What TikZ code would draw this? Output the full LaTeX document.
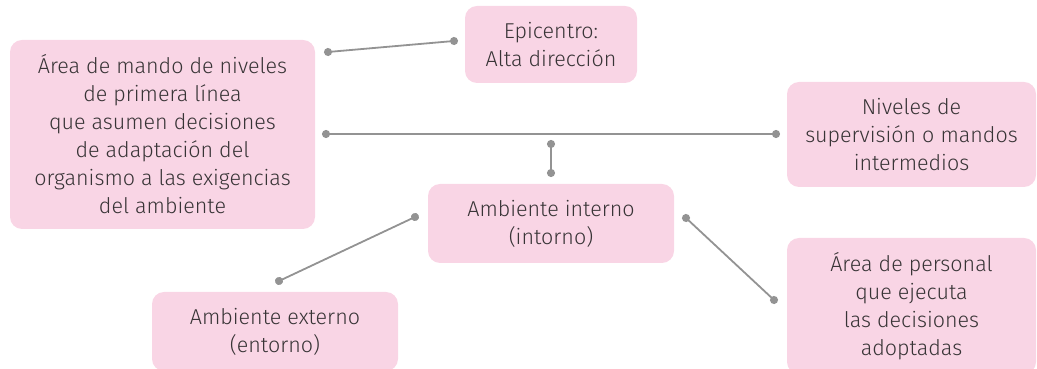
\documentclass[tikz,border=0pt]{standalone}
\usepackage{fontspec}
\setmainfont{Fira Sans Light}
\usetikzlibrary{arrows.meta,positioning,calc}
\definecolor{rosa}{HTML}{F9D5E5}
\definecolor{gris}{HTML}{939393}
\definecolor{texto}{HTML}{383436}
\tikzset{
  caja/.style={fill=rosa,rounded corners=12pt,inner sep=0pt,align=center,text=texto,
               font=\fontsize{21.5}{28}\selectfont},
  conector/.style={{Circle[length=8pt]}-{Circle[length=8pt]},line width=1.8pt,draw=gris,color=gris,
                   shorten <=-4pt,shorten >=-4pt},
}

\begin{document}
\begin{tikzpicture}[x=1pt,y=1pt]
  \useasboundingbox (0,0) rectangle (1037,369);
  \begin{scope}
  \clip (0,0) rectangle (1037,369);
  \node[caja,minimum width=172pt,minimum height=77pt] (epi) at (551,324.5) {Epicentro:\\Alta dirección};
  \node[caja,minimum width=305pt,minimum height=189pt] (mando) at (162.5,234.5)
    {Área de mando de niveles\\de primera línea\\que asumen decisiones\\de adaptación del\\organismo a las exigencias\\del ambiente};
  \node[caja,minimum width=249pt,minimum height=105pt] (sup) at (911.5,234.5)
    {Niveles de\\supervisión o mandos\\intermedios};
  \node[caja,minimum width=246pt,minimum height=79pt] (interno) at (551,145.5) {Ambiente interno\\(intorno)};
  \node[caja,minimum width=246pt,minimum height=79pt] (externo) at (275,37.5) {Ambiente externo\\(entorno)};
  \node[caja,minimum width=249pt,minimum height=136pt] (personal) at (911.5,63)
    {Área de personal\\que ejecuta\\las decisiones\\adoptadas};
  \end{scope}
  % puntos de los conectores
  \coordinate (a1) at (328,317);
  \coordinate (a2) at (454,328);
  \coordinate (b1) at (326,235);
  \coordinate (b2) at (776,235);
  \coordinate (c1) at (551,225);
  \coordinate (c2) at (551,196);
  \coordinate (d1) at (415,152);
  \coordinate (d2) at (279,88);
  \coordinate (e1) at (686,151);
  \coordinate (e2) at (774,69);
  \draw[conector] (a1) -- (a2);
  \draw[conector] (b1) -- (b2);
  \draw[conector] (c1) -- (c2);
  \draw[conector] (d1) -- (d2);
  \draw[conector] (e1) -- (e2);
\end{tikzpicture}
\end{document}
